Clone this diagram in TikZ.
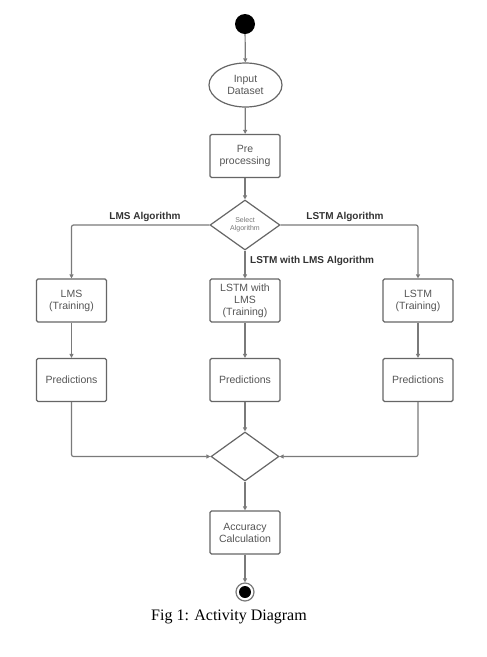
\documentclass[tikz,border=0pt]{standalone}
\usepackage{fontspec}
\setmainfont{Liberation Sans}
\newfontfamily\capfont{Liberation Serif}
\usetikzlibrary{shapes.geometric,arrows.meta}
\definecolor{linegray}{HTML}{7A7A7A}
\definecolor{boxgray}{HTML}{666666}
\definecolor{txtgray}{HTML}{555555}
\begin{document}
\begin{tikzpicture}[x=1pt,y=-1pt,
  line/.style={draw=linegray, line width=1.2pt},
  arr/.style={line, -{Triangle[length=4pt,width=4pt]}},
  box/.style={draw=boxgray, line width=1.2pt, rounded corners=1.5pt, minimum width=70pt, minimum height=43pt, align=center, font=\fontsize{10.5}{12}\selectfont, text=txtgray, inner sep=1pt},
  lbl/.style={font=\fontsize{10}{12}\selectfont\bfseries, text=black!80, inner sep=1pt}]
\useasboundingbox (0,0) rectangle (487,657);
\fill[white] (0,0) rectangle (487,657);

\node[circle, fill=black, minimum size=20pt, inner sep=0] (start) at (245,24) {};
\node[ellipse, draw=boxgray, line width=1.2pt, minimum width=73pt, minimum height=44pt, align=center, font=\fontsize{10.5}{12}\selectfont, text=txtgray, inner sep=1pt] (input) at (245.5,85) {Input\\Dataset};
\node[box] (pre) at (245,156) {Pre\\processing};
\node[diamond, draw=boxgray, line width=1.2pt, minimum width=70pt, minimum height=50pt, inner sep=0, align=center, font=\fontsize{7}{8}\selectfont, text=txtgray!80] (sel) at (245,225) {Select\\Algorithm};

\node[box] (lmsT) at (71.5,300.5) {LMS\\(Training)};
\node[box] (midT) at (245,300.5) {LSTM with\\LMS\\(Training)};
\node[box] (lstmT) at (418,300.5) {LSTM\\(Training)};

\node[box] (lmsP) at (71.5,380) {Predictions};
\node[box] (midP) at (245,380) {Predictions};
\node[box] (lstmP) at (418,380) {Predictions};

\node[diamond, draw=boxgray, line width=1.2pt, minimum width=68pt, minimum height=49pt, inner sep=0] (merge) at (245,456.5) {};
\node[box] (acc) at (245,532.5) {Accuracy\\Calculation};
\node[circle, draw=linegray, line width=1.2pt, minimum size=18pt, inner sep=0] (end) at (245,592) {};
\fill[black] (end.center) circle (6pt);

\node[lbl] (l1) at (145,217) {LMS Algorithm};
\node[lbl] (l2) at (345,217) {LSTM Algorithm};
\node[lbl, anchor=west] (l3) at (249,261) {LSTM with LMS Algorithm};

\node[font=\capfont\fontsize{16}{18}\selectfont] (cap) at (229,617) {Fig 1: Activity Diagram};

\draw[arr] (start) -- (input);
\draw[arr] (input) -- (pre);
\draw[arr] (pre) -- (sel);
\draw[arr, rounded corners=2pt] (sel.west) -| (lmsT.north);
\draw[arr, rounded corners=2pt] (sel.east) -| (lstmT.north);
\draw[arr] (sel.south) -- (midT.north);
\draw[arr] (lmsT) -- (lmsP);
\draw[arr] (midT) -- (midP);
\draw[arr] (lstmT) -- (lstmP);
\draw[arr, rounded corners=2pt] (lmsP.south) |- (merge.west);
\draw[arr, rounded corners=2pt] (lstmP.south) |- (merge.east);
\draw[arr] (midP) -- (merge.north);
\draw[arr] (merge.south) -- (acc.north);
\draw[arr] (acc) -- (end);
\end{tikzpicture}
\end{document}
